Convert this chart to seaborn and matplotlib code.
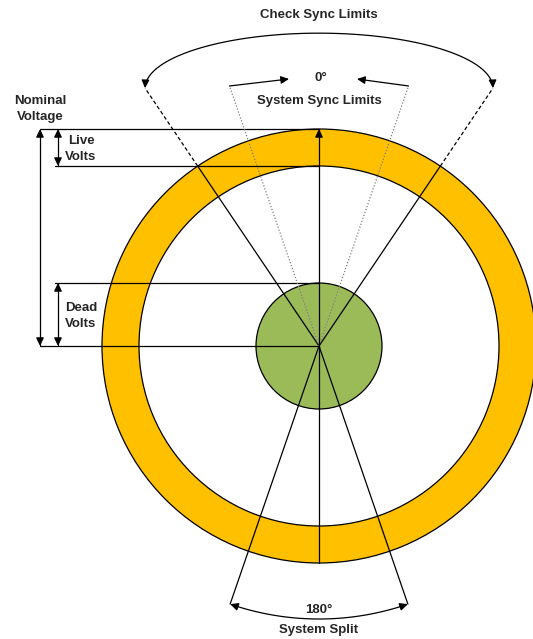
import numpy as np
import pandas as pd
import matplotlib
matplotlib.use("Agg")
import matplotlib.pyplot as plt
import seaborn as sns
from matplotlib.patches import Wedge, Circle, FancyArrowPatch
from matplotlib.path import Path

sns.set_style("white")
plt.rcParams['font.family'] = ['Liberation Sans', 'DejaVu Sans']

# ---- geometry of the diagram (pixel units, y pointing down) ----
centre = (319, 346)
ring_radii = [217, 180]          # outer / inner edge of the voltage ring
dead_radius = 63                 # green "dead" zone
check_sync_deg = 34              # check sync limit, either side of 0°
system_sync_deg = 19             # system sync limit
split_deg = 19                   # system split, either side of 180°
check_sync_reach = 311
system_sync_reach = 275
split_reach = 273

# horizontal guide levels: name, radius it marks, left end of the line
level_names = ["Nominal", "Live", "Dead", "Zero"]
level_radius = [217, 180, 63, 0]
level_x0 = [40, 55, 55, 40]

labels = {
    "check": "Check Sync Limits",
    "zero": "0°",
    "sync": "System Sync Limits",
    "nominal": "Nominal\nVoltage",
    "live": "Live\nVolts",
    "dead": "Dead\nVolts",
    "split_deg": "180°",
    "split": "System Split",
}

ring_color = "#FFC000"
dead_color = "#9BBB59"
lw = 0.9
cx, cy = centre


def up_point(r, deg):
    a = np.radians(deg)
    return cx + r * np.sin(a), cy - r * np.cos(a)


def down_point(r, deg):
    a = np.radians(deg)
    return cx + r * np.sin(a), cy + r * np.cos(a)


def arrow(ax, pts, style="-|>", ls="-"):
    p = FancyArrowPatch(path=Path(np.asarray(pts)),
                        arrowstyle=f"{style},head_length=4.8,head_width=2.3",
                        color="black", lw=lw, ls=ls, shrinkA=0, shrinkB=0,
                        zorder=5)
    ax.add_patch(p)


fig = plt.figure(figsize=(5.33, 6.39), dpi=100)
ax = fig.add_axes([0, 0, 1, 1])

# voltage ring and dead zone
ax.add_patch(Wedge(centre, ring_radii[0], 0, 360,
                   width=ring_radii[0] - ring_radii[1],
                   fc=ring_color, ec="black", lw=lw, zorder=1))
ax.add_patch(Circle(centre, dead_radius, fc=dead_color, ec="black",
                    lw=lw, zorder=2))

# horizontal guide lines
guides = pd.DataFrame({
    "level": np.repeat(level_names, 2),
    "x": np.ravel([[x0, cx] for x0 in level_x0]),
    "y": np.ravel([[cy - r, cy - r] for r in level_radius]),
})
sns.lineplot(data=guides, x="x", y="y", units="level", estimator=None,
             color="black", lw=lw, sort=False, ax=ax, zorder=3)
ax.set_xlim(0, 533)
ax.set_ylim(639, 0)
ax.axis("off")

# vertical: 0° arrow up, line down to the ring bottom
arrow(ax, [centre, (cx, cy - ring_radii[0])])
ax.plot([cx, cx], [cy, cy + ring_radii[0]], color="black", lw=lw, zorder=3)

for s in (-1, 1):
    x0, y0 = centre
    # check sync limits: solid inside ring, dashed beyond
    x1, y1 = up_point(ring_radii[0], s * check_sync_deg)
    x2, y2 = up_point(check_sync_reach, s * check_sync_deg)
    ax.plot([x0, x1], [y0, y1], color="black", lw=lw, zorder=3)
    ax.plot([x1, x2], [y1, y2], color="black", lw=lw, ls=(0, (3, 2)), zorder=3)
    # system sync limits (dotted grey)
    x3, y3 = up_point(system_sync_reach, s * system_sync_deg)
    ax.plot([x0, x3], [y0, y3], color="#808080", lw=lw, ls=(0, (1, 1.5)),
            zorder=3)
    # system split lines
    x4, y4 = down_point(split_reach, s * split_deg)
    ax.plot([x0, x4], [y0, y4], color="black", lw=lw, zorder=3)

# short arrows towards 0°
xl, yl = up_point(system_sync_reach, -system_sync_deg)
xr, yr = up_point(system_sync_reach, system_sync_deg)
arrow(ax, [(xl, yl), (289, 79)])
arrow(ax, [(xr, yr), (357, 79)])

# check sync arc (elliptical, arrows at both ends)
xa, ya = up_point(check_sync_reach, -check_sync_deg)
xb, yb = up_point(check_sync_reach, check_sync_deg)
t = np.linspace(np.pi, 0, 120)
a_ax = (xb - xa) / 2
arc = np.column_stack([cx + a_ax * np.cos(t), ya - 55 * np.sin(t)])
arrow(ax, arc, style="<|-|>")

# system split arc (circular around centre)
ang = np.radians(np.linspace(-split_deg, split_deg, 80))
split_arc = np.column_stack([cx + split_reach * np.sin(ang),
                             cy + split_reach * np.cos(ang)])
arrow(ax, split_arc, style="<|-|>")

# vertical dimension arrows
arrow(ax, [(40, cy), (40, cy - level_radius[0])], style="<|-|>")
arrow(ax, [(58, cy - level_radius[1]), (58, cy - level_radius[0])], style="<|-|>")
arrow(ax, [(58, cy), (58, cy - level_radius[2])], style="<|-|>")

txt = dict(fontsize=9.5, fontweight="bold", ha="center", va="center",
           linespacing=1.4)
ax.text(cx, 15, labels["check"], **txt)
ax.text(cx + 2, 78, labels["zero"], **txt)
ax.text(cx, 101, labels["sync"], **txt)
ax.text(40, 109, labels["nominal"], **txt)
ax.text(81, 149, labels["live"], **txt)
ax.text(81, 316, labels["dead"], **txt)
ax.text(cx, 610, labels["split_deg"], **txt)
ax.text(cx, 630, labels["split"], **txt)

fig.savefig("out.png", dpi=100)
